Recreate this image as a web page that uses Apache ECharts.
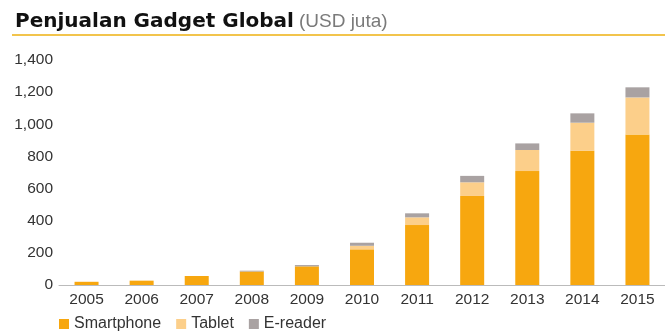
<!DOCTYPE html>
<html>
<head>
<meta charset="utf-8">
<script src="https://cdn.jsdelivr.net/npm/echarts@6/dist/echarts.min.js"></script>
<style>
  html, body { margin: 0; padding: 0; background: #fff; }
  #chart { width: 665px; height: 333px; }
</style>
</head>
<body>
<div id="chart"></div>
<script>
// Global gadget sales, USD million, stacked by device type
const years = ['2005', '2006', '2007', '2008', '2009', '2010', '2011', '2012', '2013', '2014', '2015'];
const smartphone = [20, 27, 56, 84, 116, 222, 373, 554, 709, 835, 937];
const tablet     = [0, 0, 0, 0, 0, 22, 48, 85, 131, 175, 230];
const ereader    = [0, 0, 0, 5, 8, 19, 25, 40, 41, 58, 63];
const yTicks = [0, 200, 400, 600, 800, 1000, 1200, 1400];

const FONT = '"Liberation Sans", Arial, sans-serif';
const chart = echarts.init(document.getElementById('chart'), null, { renderer: 'canvas' });

const bar = (name, data, color) => ({
  name, type: 'bar', stack: 'total', data,
  barWidth: 24,
  itemStyle: { color },
  emphasis: { disabled: true }
});

chart.setOption({
  animation: false,
  textStyle: { fontFamily: FONT },
  title: {
    text: '{b|Penjualan Gadget Global} {n|(USD juta)}',
    left: 10, top: 7,
    textStyle: {
      rich: {
        b: { fontFamily: '"DejaVu Sans", sans-serif', fontWeight: 'bold', fontSize: 20, color: '#111' },
        n: { fontFamily: FONT, fontWeight: 'normal', fontSize: 19, color: '#7a7a7a' }
      }
    }
  },
  graphic: [{
    type: 'rect',
    shape: { x: 12, y: 34, width: 660, height: 2 },
    style: { fill: '#f2c44c' },
    silent: true
  }],
  legend: {
    top: 311, left: 54,
    itemWidth: 10, itemHeight: 10, itemGap: 15,
    icon: 'rect',
    textStyle: { fontFamily: FONT, fontSize: 16, color: '#333' },
    data: ['Smartphone', 'Tablet', 'E-reader']
  },
  grid: { left: 59, right: -10, top: 60, bottom: 48, containLabel: false },
  xAxis: {
    type: 'category', data: years,
    axisLine: { lineStyle: { color: '#bbb', width: 1 } },
    axisTick: { show: false },
    axisLabel: { fontFamily: FONT, fontSize: 15.5, color: '#333', margin: 7 }
  },
  yAxis: {
    type: 'value', min: yTicks[0], max: yTicks[yTicks.length - 1], interval: 200,
    axisLine: { show: false }, axisTick: { show: false }, splitLine: { show: false },
    axisLabel: {
      fontFamily: FONT, fontSize: 15.5, color: '#333', margin: 6,
      formatter: v => v.toLocaleString('en-US')
    }
  },
  series: [
    bar('Smartphone', smartphone, '#f7a70f'),
    bar('Tablet', tablet, '#fccf8a'),
    bar('E-reader', ereader, '#a9a2a2')
  ]
});
</script>
</body>
</html>
